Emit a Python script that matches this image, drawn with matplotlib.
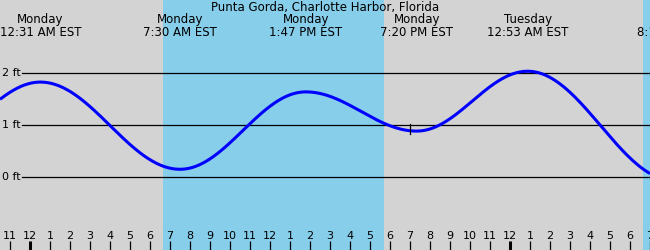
import numpy as np
import matplotlib
matplotlib.use("Agg")
import matplotlib.pyplot as plt
from matplotlib.transforms import blended_transform_factory

# ---- data (hours since Monday 00:00) ----
title = "Punta Gorda, Charlotte Harbor, Florida"
extreme_hours = [-5.0, 0.517, 7.5, 13.783, 19.333, 24.883, 32.2]
extreme_heights = [0.70, 1.83, 0.14, 1.64, 0.88, 2.04, -0.08]
event_days = ["Monday", "Monday", "Monday", "Monday", "Tuesday", "Tuesday"]
event_labels = ["12:31 AM EST", "7:30 AM EST", "1:47 PM EST", "7:20 PM EST",
                "12:53 AM EST", "8:12 AM EST"]
event_hours = [0.517, 7.5, 13.783, 19.333, 24.883, 32.2]
daylight = [(6.65, 17.7), (30.65, 42.0)]
hour_ticks = list(range(-1, 32))
hour_labels = [str(((h % 12) or 12)) for h in hour_ticks]
ft_levels = [0, 1, 2]
now_hour = 19.0

# ---- figure ----
W, H = 650, 250
fig = plt.figure(figsize=(W / 100, H / 100), dpi=100)
ax = fig.add_axes([0, 0, 1, 1])
ax.set_facecolor("#d3d3d3")
ax.set_xlim(-1.5, 31)
px_per_ft = 51.6
zero_px = 176.5
ax.set_ylim((zero_px - H) / px_per_ft, zero_px / px_per_ft)
ax.axis("off")
ax.add_patch(plt.Rectangle((0, 0), 1, 1, transform=ax.transAxes,
                           color="#d3d3d3", zorder=0))

for a, b in daylight:
    ax.axvspan(a, b, color="#87ceeb", zorder=1, lw=0)

# horizontal reference lines and labels
xl = blended_transform_factory(ax.transAxes, ax.transData)
for lv in ft_levels:
    ax.plot([22 / W, 1], [lv, lv], color="black", lw=0.9, transform=xl, zorder=2)
    ax.text(2 / W, lv, f"{lv} ft", transform=xl, ha="left", va="center",
            fontsize=8, color="black", zorder=3)

# tide curve (cosine interpolation between highs and lows)
t = np.linspace(-1.5, 31, 1200)
y = np.empty_like(t)
for i in range(len(extreme_hours) - 1):
    t0, t1 = extreme_hours[i], extreme_hours[i + 1]
    h0, h1 = extreme_heights[i], extreme_heights[i + 1]
    m = (t >= t0) & (t <= t1)
    ph = (t[m] - t0) / (t1 - t0)
    y[m] = h0 + (h1 - h0) * (1 - np.cos(np.pi * ph)) / 2
ax.plot(t, y, color="#0000ff", lw=2.2, zorder=4, solid_capstyle="butt")

# now marker
ax.plot([now_hour, now_hour], [0.83, 1.02], color="black", lw=0.9, zorder=5)

# top texts
tx = blended_transform_factory(ax.transData, ax.transAxes)
ax.text(0.5, 1 - 7.5 / H, title, transform=ax.transAxes, ha="center",
        va="center", fontsize=8.5)
for d, lab, hh in zip(event_days, event_labels, event_hours):
    ax.text(hh, 1 - 20 / H, d, transform=tx, ha="center", va="center", fontsize=8.5)
    ax.text(hh, 1 - 32 / H, lab, transform=tx, ha="center", va="center", fontsize=8.5)

# hour ticks and labels
for hh, lab in zip(hour_ticks, hour_labels):
    lw = 2.2 if hh % 24 == 0 else 0.9
    ax.plot([hh, hh], [0, 9 / H], color="black", lw=lw, transform=tx,
            solid_capstyle="butt", zorder=3)
    ax.text(hh, 1 - 236 / H, lab, transform=tx, ha="center", va="center",
            fontsize=8)

fig.savefig("out.png", dpi=100)
